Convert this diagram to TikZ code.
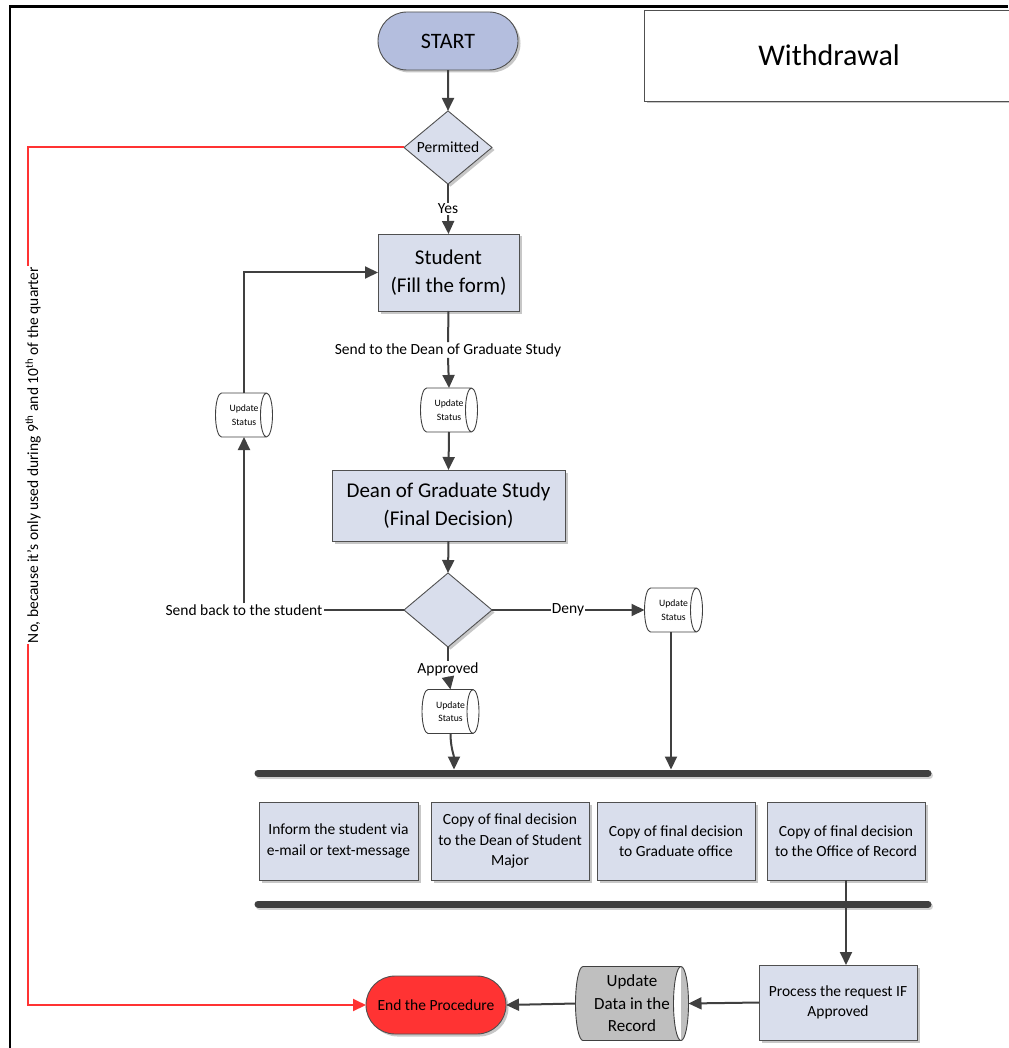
\documentclass[tikz,border=0pt]{standalone}
\usepackage{fontspec}
\setmainfont{Carlito}
\usetikzlibrary{arrows.meta,shapes.geometric,shapes.misc,shadows}

\definecolor{lineclr}{HTML}{404040}
\definecolor{edgeclr}{HTML}{505050}
\definecolor{boxfill}{HTML}{D9DEEC}
\definecolor{startfill}{HTML}{B4BEDE}
\definecolor{endfill}{HTML}{FF3333}
\definecolor{redln}{HTML}{FF3333}
\definecolor{datafill}{HTML}{BFBFBF}

% Horizontal storage drum: left end bulges out, right end shows the full ellipse
\makeatletter
\def\drumrx{6pt}
\pgfdeclareshape{drum}{%
  \inheritsavedanchors[from=rectangle]%
  \inheritanchorborder[from=rectangle]%
  \inheritanchor[from=rectangle]{center}%
  \inheritanchor[from=rectangle]{north}%
  \inheritanchor[from=rectangle]{south}%
  \inheritanchor[from=rectangle]{east}%
  \inheritanchor[from=rectangle]{west}%
  \inheritanchor[from=rectangle]{north east}%
  \inheritanchor[from=rectangle]{north west}%
  \inheritanchor[from=rectangle]{south east}%
  \inheritanchor[from=rectangle]{south west}%
  \backgroundpath{%
    \southwest \pgf@xa=\pgf@x \pgf@ya=\pgf@y
    \northeast \pgf@xb=\pgf@x \pgf@yb=\pgf@y
    \pgf@xc=\drumrx\relax
    \edef\drumL{\the\dimexpr\pgf@xa+\pgf@xc\relax}%
    \edef\drumR{\the\dimexpr\pgf@xb-\pgf@xc\relax}%
    \edef\drumT{\the\pgf@yb}%
    \edef\drumB{\the\pgf@ya}%
    \edef\drumH{\the\dimexpr(\pgf@yb-\pgf@ya)/2\relax}%
    \pgfpathmoveto{\pgfqpoint{\drumL}{\drumT}}%
    \pgfpathlineto{\pgfqpoint{\drumR}{\drumT}}%
    \pgfpatharc{90}{-90}{\drumrx and \drumH}%
    \pgfpathlineto{\pgfqpoint{\drumL}{\drumB}}%
    \pgfpatharc{270}{90}{\drumrx and \drumH}%
    \pgfpathclose
    \pgfpathmoveto{\pgfqpoint{\drumR}{\drumT}}%
    \pgfpatharc{90}{270}{\drumrx and \drumH}%
  }%
}
\makeatother

\newcommand\bigtxt{\fontsize{21}{27.5}\selectfont}
\newcommand\midtxt{\fontsize{15.5}{20.5}\selectfont}
\newcommand\lbltxt{\fontsize{15.5}{18}\selectfont}
\newcommand\tinytxt{\fontsize{9.7}{13.5}\selectfont}

\tikzset{
  conn/.style={draw=lineclr, line width=2pt},
  arr/.style={conn, -{Triangle[length=13pt,width=12pt]}},
  redarr/.style={draw=redln, line width=2pt, -{Triangle[length=13pt,width=12pt]}},
  shadowed/.style={drop shadow={shadow xshift=2.5pt, shadow yshift=-2.5pt, fill=black, opacity=.22}},
  procbox/.style={rectangle, draw=edgeclr, line width=0.9pt, fill=boxfill, outer sep=0pt,
                  inner sep=2pt, align=center, shadowed},
  terminal/.style={rounded rectangle, draw=edgeclr, line width=0.9pt, outer sep=0pt,
                   inner sep=0pt, minimum width=140pt, minimum height=58pt, shadowed},
  decision/.style={diamond, draw=edgeclr, line width=0.9pt, fill=boxfill, outer sep=0pt,
                   inner sep=0pt, minimum width=88pt, shadowed},
  drumrad/.code={\def\drumrx{#1}},
  status/.style={shape=drum, draw=lineclr, line width=0.9pt, fill=white, outer sep=0pt,
                 inner sep=0pt, minimum width=57pt, minimum height=44pt, align=center,
                 font=\tinytxt, drumrad=6pt},
  lbl/.style={inner sep=1pt, font=\lbltxt},
  bar/.style={draw=lineclr, line width=7pt, line cap=round},
  barshade/.style={draw=black!18, line width=7pt, line cap=round},
}

\begin{document}
\begin{tikzpicture}[x=1pt,y=-1pt]
\useasboundingbox (0,0) rectangle (1008,1048);

% frame
\coordinate (fr1) at (10,6.5);
\coordinate (fr2) at (1008,6.5);
\coordinate (fr3) at (10,1048);
\draw[black, line width=2.2pt] (fr2) -- (fr1) -- (fr3);

% title box
\node[rectangle, draw=edgeclr, line width=0.9pt, fill=white, shadowed,
      minimum width=370pt, minimum height=91pt, font=\fontsize{30}{36}\selectfont]
      (title) at (829,55.5) {Withdrawal};

% main column
\node[terminal, fill=startfill, font=\fontsize{22}{26}\selectfont] (start) at (448,41) {START};
\node[decision, minimum height=71pt, font=\lbltxt] (perm) at (448,147.5) {Permitted};
\node[lbl] (yes) at (448,209) {Yes};
\node[procbox, minimum width=141pt, minimum height=77pt, font=\bigtxt] (student) at (448.5,272.5)
      {Student\\(Fill the form)};
\node[lbl] (send) at (448,350) {Send to the Dean of Graduate Study};
\node[status] (us1) at (449,410) {Update\\Status};
\node[procbox, minimum width=233pt, minimum height=71pt, font=\bigtxt] (dean) at (448.5,505.5)
      {Dean of Graduate Study\\(Final Decision)};
\node[decision, minimum height=74pt] (dec) at (448,610) {};

% branches of the decision
\node[lbl] (back) at (244,610) {Send back to the student};
\node[status] (us2) at (244,415) {Update\\Status};
\node[lbl] (deny) at (568,610) {Deny};
\node[status, minimum width=58pt] (us3) at (673.5,610) {Update\\Status};
\node[lbl] (appr) at (448,669) {Approved};
\node[status] (us4) at (450.5,711.5) {Update\\Status};

% synchronisation bars
\coordinate (b1l) at (258,773);
\coordinate (b1r) at (928,773);
\coordinate (b2l) at (258,904);
\coordinate (b2r) at (928,904);
\draw[barshade] ([shift={(1.5,2.5)}]b1l) -- ([shift={(1.5,2.5)}]b1r);
\draw[barshade] ([shift={(1.5,2.5)}]b2l) -- ([shift={(1.5,2.5)}]b2r);
\draw[bar] (b1l) -- (b1r);
\draw[bar] (b2l) -- (b2r);
\coordinate (b1a) at (454,769.5);
\coordinate (b1b) at (671,769.5);

% parallel notifications
\node[procbox, minimum width=159pt, minimum height=78pt, font=\midtxt] (inf) at (338.5,841)
      {Inform the student via\\e-mail or text-message};
\node[procbox, minimum width=158pt, minimum height=78pt, font=\midtxt] (cpy1) at (510,841)
      {Copy of final decision\\to the Dean of Student\\Major};
\node[procbox, minimum width=158pt, minimum height=78pt, font=\midtxt] (cpy2) at (676,841)
      {Copy of final decision\\to Graduate office};
\node[procbox, minimum width=158pt, minimum height=78pt, font=\midtxt] (cpy3) at (846,841)
      {Copy of final decision\\to the Office of Record};

% closing row
\node[procbox, minimum width=158pt, minimum height=75pt, font=\midtxt] (proc) at (838,1002.5)
      {Process the request IF\\Approved};
\node[status, fill=datafill, minimum width=113pt, minimum height=74pt, drumrad=7.5pt,
      font=\fontsize{17}{22.5}\selectfont] (data) at (632,1003.5) {Update\\Data in the\\Record};
\node[terminal, fill=endfill, font=\lbltxt] (endp) at (436,1005) {End the Procedure};

% connectors
\draw[arr] (start) -- (perm);
\draw[conn] (perm.south) -- (yes.north);
\draw[arr] (yes.south) -- (student.north);
\draw[conn] (student.south) -- (send.north);
\draw[arr] (send.south) -- (us1.north);
\draw[arr] (us1.south) -- (dean.north);
\draw[arr] (dean.south) -- (dec.north);
\draw[conn] (dec.west) -- (back.east);
\draw[arr] (back.north) -- (back.north |- us2.south);
\draw[arr] (us2.north) |- (student.west);
\draw[conn] (dec.east) -- (deny.west);
\draw[arr] (deny.east) -- (us3.west);
\draw[conn] (dec.south) -- (appr.north);
\draw[arr] (appr.south) -- (us4.north);
\draw[arr] (us4.south) .. controls +(0,14) and +(0,-14) .. (b1a);
\draw[arr] (us3.south -| b1b) -- (b1b);
\draw[arr] (cpy3.south) -- (cpy3.south |- proc.north);
\draw[arr] (proc.west) -- (data.east);
\draw[arr] (data.west) -- (endp.east);

% rejection path
\coordinate (nx) at (28,0);
\draw[redarr] (perm.west) -- (perm.west -| nx) -- (nx |- endp.west) -- (endp.west);
\node[rotate=90, fill=white, inner sep=1pt, font=\lbltxt] (nolbl) at (33,455)
      {No, because it’s only used during 9\textsuperscript{th} and 10\textsuperscript{th} of the quarter};
\end{tikzpicture}
\end{document}
